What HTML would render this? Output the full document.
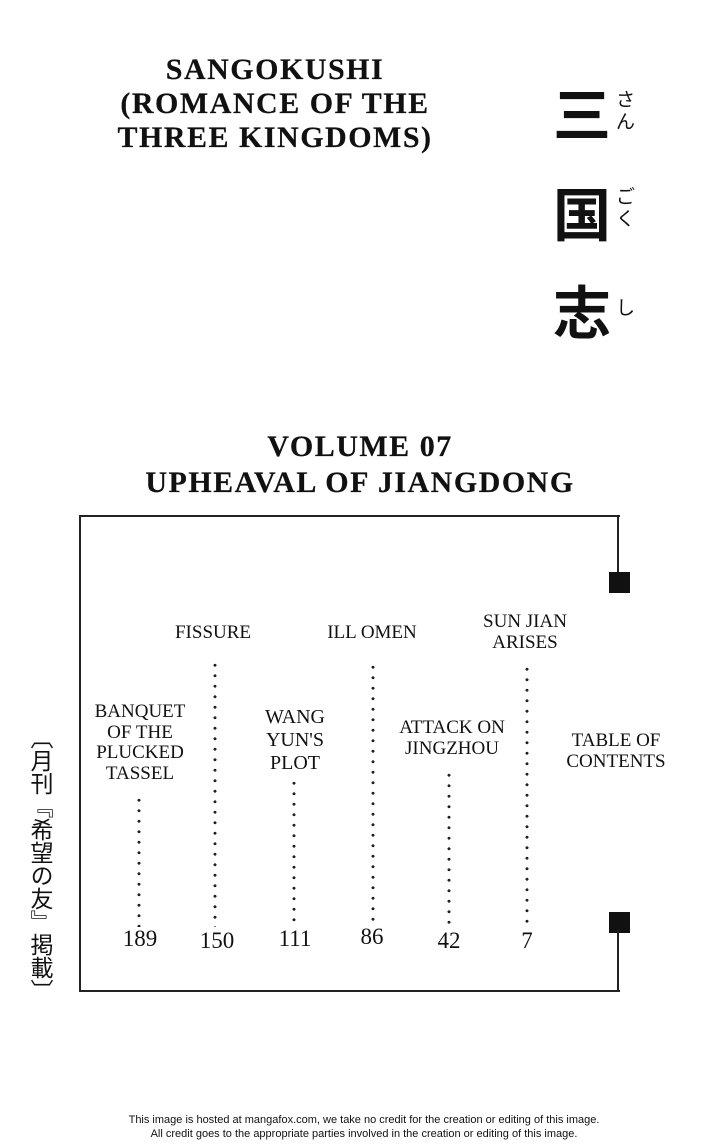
<!DOCTYPE html>
<html><head><meta charset="utf-8"><style>
body{margin:0;width:728px;height:1145px;background:#fff;position:relative;overflow:hidden;font-family:"Liberation Serif",serif;color:#111}
.a{position:absolute;white-space:nowrap}
.t{font-size:30px;letter-spacing:1.5px;text-align:center;line-height:34px;font-weight:bold;-webkit-text-stroke:0.2px #111}
.l{font-size:19px;text-align:center;line-height:20.5px;transform:translateX(-50%)}
.d{position:absolute;width:4px;margin-left:-1px;background-image:radial-gradient(circle,#222 1.4px,transparent 1.6px);background-size:4px 10.5px;background-repeat:repeat-y}
.n{position:absolute;font-size:23px;transform:translateX(-50%)}
.k{font-family:"Noto Sans CJK JP",sans-serif;font-weight:bold;font-size:58px;line-height:58px}
.f{font-family:"Noto Sans CJK JP",sans-serif;font-size:19px;line-height:22px}
</style></head><body>
<div class="a t" style="left:75px;width:400px;top:53px">SANGOKUSHI<br>(ROMANCE OF THE<br>THREE KINGDOMS)</div>
<div class="a k" style="left:553px;top:82px">三</div>
<div class="a k" style="left:553px;top:182px">国</div>
<div class="a k" style="left:553px;top:280px">志</div>
<div class="a f" style="left:616px;top:88px">さ<br>ん</div>
<div class="a f" style="left:616px;top:185px">ご<br>く</div>
<div class="a f" style="left:616px;top:296px">し</div>
<div class="a t" style="left:110px;width:500px;top:429px;line-height:36px">VOLUME 07<br>UPHEAVAL OF JIANGDONG</div>
<div class="a" style="left:79px;top:515px;width:539px;height:473px;border:2px solid #222;border-right:none"></div>
<div class="a" style="left:617px;top:515px;width:2px;height:60px;background:#222"></div>
<div class="a" style="left:609px;top:572px;width:21px;height:21px;background:#111"></div>
<div class="a" style="left:609px;top:912px;width:21px;height:21px;background:#111"></div>
<div class="a" style="left:617px;top:930px;width:2px;height:60px;background:#222"></div>
<div class="a" style="left:30px;top:726px;font-family:'Noto Sans CJK JP',sans-serif;font-size:23px;writing-mode:vertical-rl;line-height:24px;letter-spacing:0px">〔月刊『希望の友』掲載〕</div>
<div class="d" style="left:138px;top:795px;height:132px"></div>
<div class="d" style="left:214px;top:660px;height:267px"></div>
<div class="d" style="left:293px;top:778px;height:149px"></div>
<div class="d" style="left:372px;top:662px;height:265px"></div>
<div class="d" style="left:448px;top:770px;height:157px"></div>
<div class="d" style="left:526px;top:664px;height:263px"></div>
<div class="a l" style="left:140px;top:702px">BANQUET<br>OF THE<br>PLUCKED<br>TASSEL</div>
<div class="a l" style="left:213px;top:623px">FISSURE</div>
<div class="a l" style="left:372px;top:623px">ILL OMEN</div>
<div class="a l" style="left:525px;top:612px">SUN JIAN<br>ARISES</div>
<div class="a l" style="left:295px;top:706px;font-size:20px;line-height:23px">WANG<br>YUN'S<br>PLOT</div>
<div class="a l" style="left:452px;top:718px">ATTACK ON<br>JINGZHOU</div>
<div class="a l" style="left:616px;top:731px">TABLE OF<br>CONTENTS</div>
<div class="n" style="left:140px;top:926px">189</div>
<div class="n" style="left:217px;top:928px">150</div>
<div class="n" style="left:295px;top:926px">111</div>
<div class="n" style="left:372px;top:924px">86</div>
<div class="n" style="left:449px;top:928px">42</div>
<div class="n" style="left:527px;top:928px">7</div>
<div class="a" style="left:0;width:728px;top:1113px;text-align:center;font-family:'Liberation Sans',sans-serif;font-size:11px;line-height:14px">This image is hosted at mangafox.com, we take no credit for the creation or editing of this image.<br>All credit goes to the appropriate parties involved in the creation or editing of this image.</div>
</body></html>
